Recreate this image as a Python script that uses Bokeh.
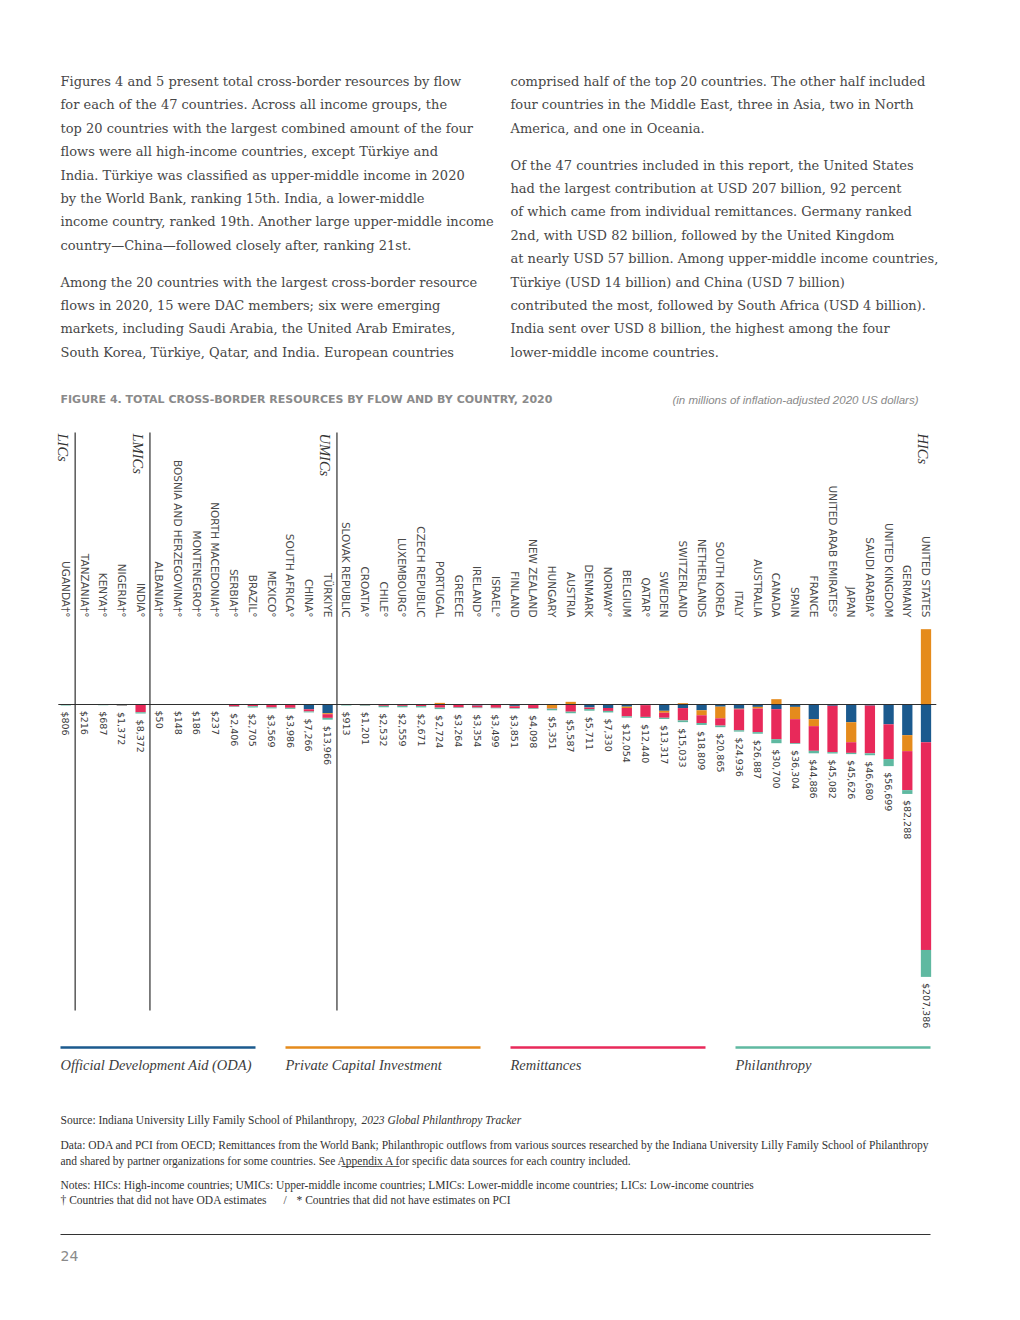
import math
from bokeh.plotting import figure
from bokeh.models import Range1d, ColumnDataSource
from bokeh.core.properties import value
from bokeh.embed import file_html
from bokeh.resources import INLINE

# ---------------- data ----------------
countries = ["UGANDA†°", "TANZANIA†°", "KENYA†°", "NIGERIA†°", "INDIA°",
             "ALBANIA†°", "BOSNIA AND HERZEGOVINA†°", "MONTENEGRO†°", "NORTH MACEDONIA†°",
             "SERBIA†°", "BRAZIL°", "MEXICO°", "SOUTH AFRICA°", "CHINA°", "TÜRKIYE",
             "SLOVAK REPUBLIC", "CROATIA°", "CHILE°", "LUXEMBOURG°", "CZECH REPUBLIC",
             "PORTUGAL", "GREECE", "IRELAND°", "ISRAEL°", "FINLAND", "NEW ZEALAND",
             "HUNGARY", "AUSTRIA", "DENMARK", "NORWAY°", "BELGIUM", "QATAR°", "SWEDEN",
             "SWITZERLAND", "NETHERLANDS", "SOUTH KOREA", "ITALY", "AUSTRALIA", "CANADA",
             "SPAIN", "FRANCE", "UNITED ARAB EMIRATES°", "JAPAN", "SAUDI ARABIA°",
             "UNITED KINGDOM", "GERMANY", "UNITED STATES"]
income_group = ["LICs"] + ["LMICs"] * 4 + ["UMICs"] * 10 + ["HICs"] * 32

oda = [0, 0, 0, 0, 0, 0, 0, 0, 0, 0, 0, 300, 150, 4400, 8000,
       120, 100, 50, 500, 300, 500, 300, 1000, 200, 1300, 500, 300, 400, 2700, 3200,
       2000, 600, 5800, 3300, 5300, 2000, 3900, 2200, 4300, 2200, 13500, 1200, 16300,
       1000, 18200, 28200, 34700]
pci = [0, 0, 0, 0, 0, 0, 0, 0, 0, 0, 0, 0, 0, 0, 900,
       0, 0, 0, 0, 50, -1500, 100, 0, 0, 300, 0, 3300, -2450, 200, 0,
       1200, 0, 1800, -1200, 4600, 10700, 500, 1500, -4900, 11300, 6400, 0, 18400,
       0, 0, 14700, -69300]
remittances = [300, 120, 400, 900, 7100, 20, 80, 100, 130, 1900, 1500, 2400, 2900, 2000, 3400,
               350, 600, 1200, 800, 1100, 2400, 2300, 1800, 2800, 1700, 3000, 300, 6200, 1300, 2700,
               7700, 10800, 4600, 11300, 7100, 6700, 19300, 21700, 27600, 22100, 22700, 42600, 9800,
               43900, 32000, 35900, 191100]
philanthropy = [506, 96, 287, 472, 1272, 30, 68, 86, 107, 506, 1205, 869, 936, 866, 1666,
                443, 501, 1282, 1259, 1221, 1324, 564, 554, 499, 551, 598, 1451, 1437, 1511, 1430,
                1154, 1040, 1117, 1633, 1809, 1465, 1236, 1487, 3700, 704, 2286, 1282, 1126,
                1780, 6499, 3488, 24800]
totals = [806, 216, 687, 1372, 8372, 50, 148, 186, 237, 2406, 2705, 3569, 3986, 7266, 13966,
          913, 1201, 2532, 2559, 2671, 2724, 3264, 3354, 3499, 3851, 4098, 5351, 5587, 5711, 7330,
          12054, 12440, 13317, 15033, 18809, 20865, 24936, 26887, 30700, 36304, 44886, 45082,
          45626, 46680, 56699, 82288, 207386]

flow_names = ["Official Development Aid (ODA)", "Private Capital Investment", "Remittances", "Philanthropy"]
flow_colors = ["#1b5a8e", "#e58b1c", "#e8295a", "#5fb9a1"]

left_par = [
    ["Figures 4 and 5 present total cross-border resources by flow",
     "for each of the 47 countries. Across all income groups, the",
     "top 20 countries with the largest combined amount of the four",
     "flows were all high-income countries, except Türkiye and",
     "India. Türkiye was classified as upper-middle income in 2020",
     "by the World Bank, ranking 15th. India, a lower-middle",
     "income country, ranked 19th. Another large upper-middle income",
     "country—China—followed closely after, ranking 21st."],
    ["Among the 20 countries with the largest cross-border resource",
     "flows in 2020, 15 were DAC members; six were emerging",
     "markets, including Saudi Arabia, the United Arab Emirates,",
     "South Korea, Türkiye, Qatar, and India. European countries"],
]
right_par = [
    ["comprised half of the top 20 countries. The other half included",
     "four countries in the Middle East, three in Asia, two in North",
     "America, and one in Oceania."],
    ["Of the 47 countries included in this report, the United States",
     "had the largest contribution at USD 207 billion, 92 percent",
     "of which came from individual remittances. Germany ranked",
     "2nd, with USD 82 billion, followed by the United Kingdom",
     "at nearly USD 57 billion. Among upper-middle income countries,",
     "Türkiye (USD 14 billion) and China (USD 7 billion)",
     "contributed the most, followed by South Africa (USD 4 billion).",
     "India sent over USD 8 billion, the highest among the four",
     "lower-middle income countries."],
]
title_main = "FIGURE 4. TOTAL CROSS-BORDER RESOURCES BY FLOW AND BY COUNTRY, 2020"
title_unit = "(in millions of inflation-adjusted 2020 US dollars)"
source_a = "Source: Indiana University Lilly Family School of Philanthropy, "
source_b = "2023 Global Philanthropy Tracker"
data_line1 = ("Data: ODA and PCI from OECD; Remittances from the World Bank; Philanthropic outflows from various "
              "sources researched by the Indiana University Lilly Family School of Philanthropy")
data_line2 = "and shared by partner organizations for some countries. See Appendix A for specific data sources for each country included."
notes_line1 = ("Notes: HICs: High-income countries; UMICs: Upper-middle income countries; "
               "LMICs: Lower-middle income countries; LICs: Low-income countries")
notes_a = "† Countries that did not have ODA estimates"
notes_sep = "/"
notes_b = "* Countries that did not have estimates on PCI"
page_number = "24"

# ---------------- layout constants ----------------
W, H = 1004, 1300
X0, DX = 65.3, 18.7      # page x of first bar, spacing between bars
Y0, S = 704.0, 920.0     # page y of zero line, millions per pixel
SERIF = value("Liberation Serif")
BODY = value("DejaVu Serif")
SANS = value("DejaVu Sans")

p = figure(width=W, height=H, x_range=Range1d(0, W), y_range=Range1d(H, 0),
           output_backend="svg", toolbar_location=None, min_border=0,
           x_axis_location=None, y_axis_location=None, outline_line_color=None,
           background_fill_color="white", border_fill_color="white")
p.grid.visible = False
p.extra_x_ranges = {"idx": Range1d((0 - X0) / DX, (W - X0) / DX)}
p.extra_y_ranges = {"val": Range1d((H - Y0) * S, (0 - Y0) * S)}

# ---------------- paragraphs ----------------
def para(x, y0, blocks, gaps):
    xs, ys, ts = [], [], []
    y = y0
    for bi, block in enumerate(blocks):
        for line in block:
            xs.append(x); ys.append(y); ts.append(line)
            y += 23.4
        if bi < len(gaps):
            y += gaps[bi]
    p.text(x=xs, y=ys, text=ts, text_font=BODY, text_font_size="13px",
           text_color="#474747", text_baseline="middle", text_align="left")

para(60, 81, left_par, [13.4])
para(510, 81, right_par, [13.4])

# ---------------- title ----------------
p.text(x=[60], y=[399], text=[title_main], text_font=SANS, text_font_size="11px",
       text_font_style="bold", text_color="#8a8a8a", text_baseline="middle")
p.text(x=[918], y=[399], text=[title_unit], text_font=value("Liberation Sans"), text_font_size="11.5px",
       text_font_style="italic", text_color="#8a8a8a", text_baseline="middle", text_align="right")

# ---------------- bars ----------------
n = len(countries)
idx = list(range(n))
segs = {k: ([], []) for k in range(4)}
pos_end = []
for i in range(n):
    c = 0.0
    vals = [oda[i], pci[i], remittances[i], philanthropy[i]]
    for k, v in enumerate(vals):
        if v >= 0:
            segs[k][0].append(c); segs[k][1].append(c + v); c += v
        else:
            segs[k][0].append(v); segs[k][1].append(0.0)
    pos_end.append(c)

for k in range(4):
    src = ColumnDataSource(dict(x=idx, top=segs[k][0], bottom=segs[k][1]))
    p.vbar(x="x", top="top", bottom="bottom", width=0.55, source=src,
           fill_color=flow_colors[k], line_color=None,
           x_range_name="idx", y_range_name="val")

# zero line
p.segment(x0=[-0.4], x1=[n - 0.45], y0=[0], y1=[0], line_color="#2f2f2f", line_width=1.2,
          x_range_name="idx", y_range_name="val")

# group separators and labels
bounds = [i + 0.5 for i in range(n - 1) if income_group[i] != income_group[i + 1]]
p.segment(x0=bounds, x1=bounds, y0=[432] * len(bounds), y1=[1010] * len(bounds),
          line_color="#2f2f2f", line_width=1.2, x_range_name="idx")
last_idx = [i for i in range(n) if i == n - 1 or income_group[i] != income_group[i + 1]]
p.text(x=[i - 0.15 for i in last_idx], y=[433] * len(last_idx), text=[income_group[i] for i in last_idx],
       angle=-math.pi / 2, text_font=SERIF, text_font_style="italic", text_font_size="14.5px",
       text_color="#333333", text_align="left", text_baseline="middle", x_range_name="idx")

# country labels
p.text(x=idx, y=[617] * n, text=countries, angle=-math.pi / 2, text_font=SANS,
       text_font_size="10.5px", text_color="#4a4a4a", text_align="right", text_baseline="middle",
       x_range_name="idx")

# total labels
p.text(x=idx, y=pos_end, text=["${:,}".format(t) for t in totals], angle=-math.pi / 2,
       y_offset=6, text_font=SANS, text_font_size="9.5px", text_color="#3a3a3a",
       text_align="left", text_baseline="middle", x_range_name="idx", y_range_name="val")

# ---------------- legend ----------------
leg_x = [60, 285, 510, 735]
p.segment(x0=leg_x, x1=[x + 195 for x in leg_x], y0=[1047] * 4, y1=[1047] * 4,
          line_color=flow_colors, line_width=2.5)
p.text(x=leg_x, y=[1064] * 4, text=flow_names, text_font=SERIF, text_font_style="italic",
       text_font_size="14.5px", text_color="#3c3c3c", text_baseline="middle")

# ---------------- source / notes ----------------
small = dict(text_font=SERIF, text_font_size="11.5px", text_color="#333333", text_baseline="middle")
p.text(x=[60], y=[1119], text=[source_a], **small)
p.text(x=[361], y=[1119], text=[source_b], text_font_style="italic", **small)
p.text(x=[60, 60, 60], y=[1144, 1160, 1184],
       text=[data_line1, data_line2, notes_line1], **small)
p.text(x=[60, 283, 296], y=[1199] * 3, text=[notes_a, notes_sep, notes_b], **small)
p.segment(x0=[341], x1=[399], y0=[1166], y1=[1166], line_color="#333333", line_width=0.8)

# footer
p.segment(x0=[60], x1=[930], y0=[1234], y1=[1234], line_color="#333333", line_width=1)
p.text(x=[60], y=[1255], text=[page_number], text_font=SANS, text_font_size="14px",
       text_color="#8a8a8a", text_baseline="middle")

open("out.html", "w").write(file_html(p, INLINE))
